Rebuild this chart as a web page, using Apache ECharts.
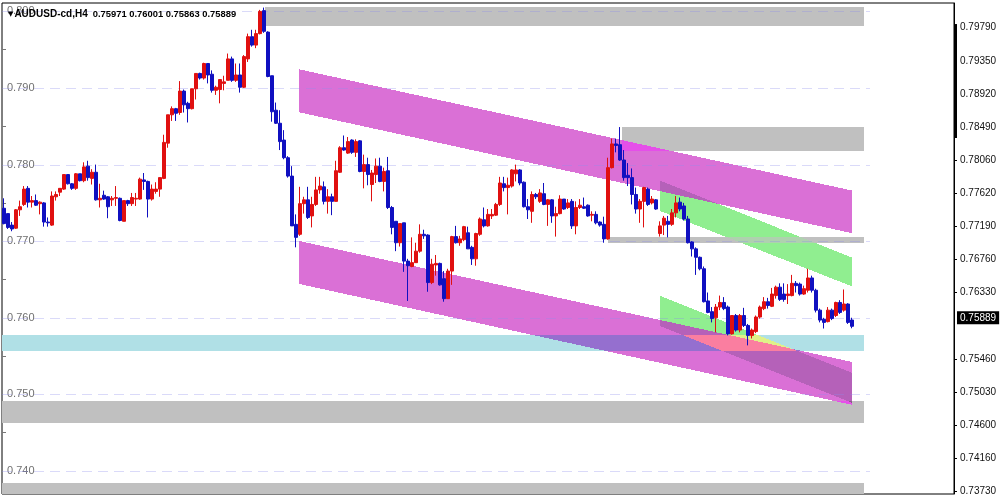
<!DOCTYPE html>
<html><head><meta charset="utf-8">
<script src="https://cdn.jsdelivr.net/npm/echarts@6/dist/echarts.min.js"></script>
<style>html,body{margin:0;padding:0;background:#fff}#c{width:1000px;height:500px}</style>
</head><body><div id="c"></div>
<script>
const symbolName = 'AUDUSD-cd,H4';
// [open, high, low, close]
const ohlc = [
[.7743,.7756,.7722,.7723],[.7736,.7736,.7716,.7718],[.7721,.7725,.7713,.7716],[.7717,.7742,.7716,.7741],[.7741,.7753,.7733,.7745],
[.7748,.7772,.7746,.7768],[.7769,.7772,.7744,.7751],[.7751,.7759,.7744,.7753],[.7753,.7761,.7746,.7747],[.7749,.7752,.7735,.7751],
[.7750,.7751,.7719,.7725],[.7725,.7731,.7719,.7724],[.7721,.7765,.7720,.7759],[.7758,.7765,.7753,.7761],[.7764,.7769,.7759,.7769],
[.7768,.7787,.7767,.7787],[.7787,.7787,.7774,.7775],[.7775,.7776,.7767,.7769],[.7769,.7789,.7767,.7788],[.7788,.7788,.7778,.7779],
[.7779,.7803,.7777,.7797],[.7798,.7805,.7779,.7783],[.7782,.7794,.7774,.7790],[.7790,.7800,.7753,.7754],[.7754,.7775,.7744,.7756],
[.7760,.7766,.7754,.7755],[.7758,.7759,.7730,.7745],[.7754,.7759,.7746,.7756],[.7756,.7772,.7746,.7757],[.7756,.7757,.7726,.7727],
[.7726,.7753,.7726,.7753],[.7753,.7754,.7746,.7749],[.7749,.7763,.7746,.7757],[.7755,.7763,.7746,.7756],[.7755,.7783,.7754,.7781],
[.7780,.7789,.7767,.7778],[.7778,.7779,.7731,.7755],[.7755,.7774,.7753,.7768],[.7765,.7777,.7762,.7768],[.7768,.7783,.7758,.7783],
[.7782,.7839,.7781,.7829],[.7828,.7865,.7822,.7865],[.7865,.7876,.7857,.7873],[.7873,.7874,.7857,.7867],[.7868,.7909,.7865,.7896],
[.7896,.7898,.7868,.7878],[.7880,.7882,.7855,.7873],[.7873,.7899,.7872,.7899],[.7899,.7919,.7885,.7919],[.7919,.7920,.7911,.7913],
[.7913,.7933,.7911,.7932],[.7932,.7932,.7906,.7917],[.7918,.7923,.7894,.7897],[.7897,.7903,.7891,.7901],[.7898,.7911,.7880,.7911],
[.7906,.7916,.7897,.7908],[.7910,.7945,.7910,.7938],[.7938,.7941,.7908,.7910],[.7910,.7932,.7908,.7917],[.7917,.7932,.7894,.7901],
[.7901,.7943,.7900,.7941],[.7938,.7971,.7934,.7967],[.7967,.7976,.7954,.7956],[.7956,.7976,.7952,.7971],[.7971,.8002,.7970,.8000],
[.8001,.8005,.7972,.7974],[.7973,.7974,.7914,.7915],[.7916,.7916,.7856,.7869],[.7871,.7881,.7853,.7854],[.7854,.7871,.7819,.7830],
[.7832,.7845,.7807,.7809],[.7809,.7811,.7783,.7785],[.7785,.7798,.7720,.7720],[.7722,.7735,.7692,.7705],[.7709,.7771,.7707,.7749],
[.7749,.7758,.7736,.7754],[.7754,.7771,.7729,.7731],[.7733,.7758,.7718,.7748],[.7748,.7784,.7746,.7767],[.7767,.7784,.7762,.7772],
[.7771,.7778,.7748,.7752],[.7752,.7768,.7736,.7758],[.7758,.7762,.7734,.7752],[.7752,.7805,.7752,.7792],[.7790,.7824,.7789,.7822],
[.7822,.7838,.7818,.7819],[.7815,.7836,.7814,.7830],[.7832,.7833,.7814,.7816],[.7816,.7833,.7810,.7830],[.7831,.7832,.7790,.7791],
[.7791,.7813,.7769,.7800],[.7800,.7809,.7773,.7787],[.7774,.7793,.7752,.7789],[.7787,.7808,.7776,.7798],[.7798,.7809,.7777,.7778],
[.7778,.7796,.7765,.7791],[.7792,.7810,.7742,.7744],[.7744,.7746,.7709,.7718],[.7726,.7726,.7687,.7698],[.7698,.7723,.7693,.7723],
[.7724,.7724,.7660,.7674],[.7674,.7677,.7622,.7668],[.7667,.7705,.7666,.7672],[.7672,.7698,.7672,.7687],[.7687,.7722,.7685,.7709],
[.7709,.7715,.7703,.7707],[.7708,.7709,.7634,.7646],[.7646,.7677,.7644,.7670],[.7669,.7682,.7655,.7671],[.7671,.7672,.7642,.7643],
[.7651,.7661,.7621,.7625],[.7625,.7664,.7625,.7661],[.7661,.7707,.7643,.7706],[.7706,.7720,.7697,.7698],[.7698,.7707,.7694,.7703],
[.7702,.7720,.7700,.7719],[.7711,.7719,.7690,.7690],[.7692,.7694,.7669,.7677],[.7677,.7711,.7668,.7710],[.7709,.7731,.7707,.7729],
[.7728,.7744,.7718,.7720],[.7720,.7742,.7719,.7735],[.7733,.7742,.7729,.7735],[.7734,.7750,.7733,.7748],[.7748,.7784,.7746,.7776],
[.7775,.7784,.7765,.7770],[.7770,.7783,.7735,.7773],[.7772,.7794,.7770,.7793],[.7788,.7800,.7778,.7793],[.7793,.7794,.7773,.7776],
[.7777,.7778,.7744,.7745],[.7745,.7755,.7729,.7741],[.7739,.7765,.7724,.7761],[.7761,.7763,.7755,.7758],[.7752,.7768,.7750,.7763],
[.7762,.7776,.7747,.7748],[.7748,.7755,.7720,.7754],[.7754,.7755,.7724,.7733],[.7733,.7745,.7706,.7736],[.7736,.7760,.7735,.7755],
[.7755,.7755,.7741,.7742],[.7744,.7755,.7742,.7750],[.7752,.7755,.7716,.7720],[.7720,.7752,.7709,.7744],[.7744,.7755,.7742,.7747],
[.7745,.7757,.7742,.7743],[.7747,.7748,.7732,.7733],[.7734,.7739,.7726,.7735],[.7735,.7739,.7722,.7724],[.7725,.7726,.7719,.7721],
[.7722,.7732,.7698,.7703],[.7703,.7809,.7702,.7796],[.7796,.7834,.7795,.7827],[.7827,.7834,.7816,.7825],[.7826,.7849,.7805,.7806],
[.7806,.7819,.7779,.7783],[.7786,.7802,.7772,.7783],[.7783,.7795,.7748,.7761],[.7761,.7770,.7736,.7742],[.7742,.7755,.7724,.7752],
[.7752,.7771,.7718,.7770],[.7768,.7770,.7746,.7748],[.7750,.7759,.7748,.7755],[.7754,.7755,.7741,.7742],[.7710,.7726,.7706,.7720],
[.7721,.7733,.7708,.7730],[.7726,.7733,.7705,.7722],[.7722,.7742,.7720,.7737],[.7737,.7759,.7731,.7750],[.7751,.7757,.7739,.7742],
[.7746,.7750,.7727,.7729],[.7729,.7733,.7697,.7698],[.7699,.7700,.7680,.7690],[.7690,.7692,.7656,.7679],[.7679,.7680,.7662,.7664],
[.7664,.7667,.7620,.7621],[.7622,.7633,.7606,.7607],[.7608,.7614,.7594,.7599],[.7600,.7618,.7581,.7614],[.7614,.7629,.7610,.7620],
[.7620,.7627,.7610,.7612],[.7614,.7616,.7577,.7579],[.7579,.7603,.7578,.7603],[.7603,.7605,.7582,.7584],[.7584,.7605,.7581,.7603],
[.7603,.7613,.7588,.7590],[.7590,.7592,.7564,.7577],[.7577,.7586,.7573,.7584],[.7582,.7603,.7580,.7601],[.7601,.7616,.7599,.7614],
[.7612,.7627,.7610,.7621],[.7621,.7626,.7612,.7616],[.7615,.7639,.7614,.7631],[.7629,.7642,.7625,.7640],[.7640,.7645,.7622,.7624],
[.7631,.7645,.7621,.7624],[.7629,.7644,.7618,.7631],[.7629,.7656,.7628,.7645],[.7645,.7648,.7633,.7642],[.7644,.7646,.7629,.7631],
[.7631,.7642,.7630,.7638],[.7636,.7664,.7633,.7652],[.7652,.7655,.7633,.7636],[.7636,.7638,.7607,.7610],[.7610,.7612,.7594,.7597],
[.7598,.7600,.7586,.7594],[.7595,.7614,.7594,.7610],[.7610,.7612,.7597,.7599],[.7603,.7621,.7601,.7620],[.7620,.7623,.7605,.7607],
[.7610,.7637,.7608,.7618],[.7618,.7619,.7592,.7594],[.75971,.76001,.75863,.75889]
];
const slotCount = 238;
const gridPrices = [0.740, 0.750, 0.760, 0.770, 0.780, 0.790, 0.800];
const halfPrices = [0.745, 0.755, 0.765, 0.775, 0.785, 0.795];
const rightTickPrices = [0.79790, 0.79350, 0.78920, 0.78490, 0.78060, 0.77620, 0.77190, 0.76760, 0.76330, 0.75460, 0.75030, 0.74600, 0.74160, 0.73730];
const priceMin = 0.736997, priceMax = 0.801097;
const axisBarRange = [0.78347, 0.79835];
// rectangles: [startIndex, endIndex, topPrice, bottomPrice]
const silverRects = [[65.3, 215, 0.8006, 0.7981], [154.4, 215, 0.7849, 0.7818], [151, 215, 0.77052, 0.76981], [-0.5, 215, 0.74919, 0.74624], [-0.5, 215, 0.73849, 0.73690]];
const powderRects = [[-0.5, 215, 0.75777, 0.75568]];
// channels: [startIndex, endIndex, topAtStart, bottomAtStart, topAtEnd, bottomAtEnd]
const orchidChannels = [[73.8, 212.1, 0.79244, 0.78683, 0.77660, 0.77104], [73.8, 212.1, 0.77003, 0.76442, 0.75422, 0.74863]];
const greenChannels = [[164, 212.1, 0.77790, 0.77395, 0.76785, 0.76408], [164, 212.1, 0.76286, 0.75894, 0.75281, 0.74889]];
const gridEndIndex = 216.5;

const FONT = 'Liberation Sans';
const last = ohlc[ohlc.length - 1];

function renderZones(params, api) {
  const cs = params.coordSys;
  const xa = api.coord([0, 0.77])[0], xb = api.coord([1, 0.77])[0];
  const step = xb - xa;
  const xPix = i => xa + i * step;
  const yPix = p => api.coord([0, p])[1];
  const shapes = [];
  const addShape = (x0, x1, t0, b0, t1, b1, rgb) => {
    shapes.push({ xl: xPix(x0), xr: xPix(x1), t0: yPix(t0), b0: yPix(b0), t1: yPix(t1), b1: yPix(b1),
      inv: [255 - rgb[0], 255 - rgb[1], 255 - rgb[2]] });
  };
  silverRects.forEach(r => addShape(r[0], r[1], r[2], r[3], r[2], r[3], [192, 192, 192]));
  powderRects.forEach(r => addShape(r[0], r[1], r[2], r[3], r[2], r[3], [176, 224, 230]));
  orchidChannels.forEach(c => addShape(c[0], c[1], c[2], c[3], c[4], c[5], [218, 112, 214]));
  greenChannels.forEach(c => addShape(c[0], c[1], c[2], c[3], c[4], c[5], [144, 238, 144]));

  const left = Math.round(cs.x), right = Math.round(cs.x + cs.width);
  const top = Math.round(cs.y), bottom = Math.round(cs.y + cs.height);
  const children = [];
  let prev = new Map();
  for (let px = left; px < right; px++) {
    const cx = px + 0.5;
    const iv = [];
    for (const s of shapes) {
      if (cx < s.xl || cx >= s.xr) continue;
      const t = (cx - s.xl) / (s.xr - s.xl);
      let a = Math.round(s.t0 + t * (s.t1 - s.t0));
      let b = Math.round(s.b0 + t * (s.b1 - s.b0));
      a = Math.max(a, top); b = Math.min(b, bottom);
      if (b > a) iv.push([a, b, s.inv]);
    }
    const cur = new Map();
    if (iv.length) {
      const ys = [...new Set(iv.flatMap(v => [v[0], v[1]]))].sort((m, n) => m - n);
      for (let k = 0; k < ys.length - 1; k++) {
        const y0 = ys[k], y1 = ys[k + 1];
        let r = 255, g = 255, bl = 255, n = 0;
        for (const v of iv) if (v[0] <= y0 && v[1] >= y1) { r ^= v[2][0]; g ^= v[2][1]; bl ^= v[2][2]; n++; }
        if (!n) continue;
        const fill = 'rgb(' + r + ',' + g + ',' + bl + ')';
        const key = y0 + '|' + y1 + '|' + fill;
        let el = prev.get(key);
        if (el) el.shape.width += 1;
        else { el = { type: 'rect', shape: { x: px, y: y0, width: 1, height: y1 - y0 }, style: { fill } }; children.push(el); }
        cur.set(key, el);
      }
    }
    prev = cur;
  }
  gridPrices.forEach(p => {
    const y = Math.round(yPix(p)) + 0.5;
    children.push({ type: 'line', shape: { x1: xPix(-0.5), y1: y, x2: xPix(gridEndIndex), y2: y },
      style: { stroke: 'rgba(140,140,235,0.32)', lineWidth: 1, lineDash: [10, 6] } });
  });
  const ax = cs.x + cs.width;
  children.push({ type: 'rect', shape: { x: ax, y: yPix(axisBarRange[1]), width: 3, height: yPix(axisBarRange[0]) - yPix(axisBarRange[1]) },
    style: { fill: '#000' } });
  return { type: 'group', children };
}

const chart = echarts.init(document.getElementById('c'), null, { renderer: 'canvas' });
chart.setOption({
  animation: false,
  backgroundColor: '#fff',
  title: {
    left: 3, top: 0,
    text: '{t|▼}{n|' + symbolName + '} {v|' + [last[0], last[1], last[2], last[3]].map(v => v.toFixed(5)).join(' ') + '}',
    textStyle: { rich: {
      t: { fontSize: 7, color: '#000', fontFamily: 'DejaVu Sans', padding: [0, 1, 0, 0] },
      n: { fontSize: 10, color: '#000', fontFamily: FONT },
      v: { fontSize: 9.4, color: '#000', fontFamily: FONT }
    } }
  },
  grid: { left: 2, right: 46, top: 3, bottom: 6, show: true, borderColor: '#000', borderWidth: 1, backgroundColor: 'transparent' },
  xAxis: { type: 'category', data: Array.from({ length: slotCount }, (_, i) => i), boundaryGap: true,
    axisLine: { show: false }, axisTick: { show: false }, axisLabel: { show: false }, splitLine: { show: false } },
  yAxis: [
    { type: 'value', position: 'left', min: priceMin, max: priceMax,
      axisLine: { show: false },
      axisTick: { show: true, inside: true, length: 4, customValues: halfPrices, lineStyle: { color: '#777' } },
      axisLabel: { show: true, inside: true, margin: 5, customValues: gridPrices, formatter: v => v.toFixed(3),
        color: '#707070', fontSize: 11, fontFamily: FONT },
      splitLine: { show: false } },
    { type: 'value', position: 'right', min: priceMin, max: priceMax,
      axisLine: { show: true, lineStyle: { color: '#000', width: 1 } },
      axisTick: { show: true, length: 3, customValues: rightTickPrices, lineStyle: { color: '#000' } },
      axisLabel: { show: true, margin: 6, customValues: rightTickPrices, formatter: v => v.toFixed(5),
        color: '#111', fontSize: 10, fontFamily: FONT },
      splitLine: { show: false } }
  ],
  series: [
    { type: 'custom', renderItem: renderZones, data: [[0, 0.77]], z: 1, silent: true, clip: false },
    { type: 'candlestick', z: 3, barWidth: 3,
      data: ohlc.map(r => [r[0], r[3], r[2], r[1]]),
      itemStyle: { color: '#e01010', color0: '#1010c0', borderColor: '#e01010', borderColor0: '#1010c0', borderWidth: 1 },
      markLine: { symbol: ['none', 'none'], silent: true, animation: false,
        data: [{ yAxis: last[3] }],
        lineStyle: { color: 'rgba(0,0,0,0)', width: 0 },
        label: { show: true, position: 'end', distance: 3, formatter: last[3].toFixed(5), color: '#fff', backgroundColor: '#000',
          padding: [2, 3, 1, 3], fontSize: 10, fontFamily: FONT } } }
  ]
});
</script></body></html>
